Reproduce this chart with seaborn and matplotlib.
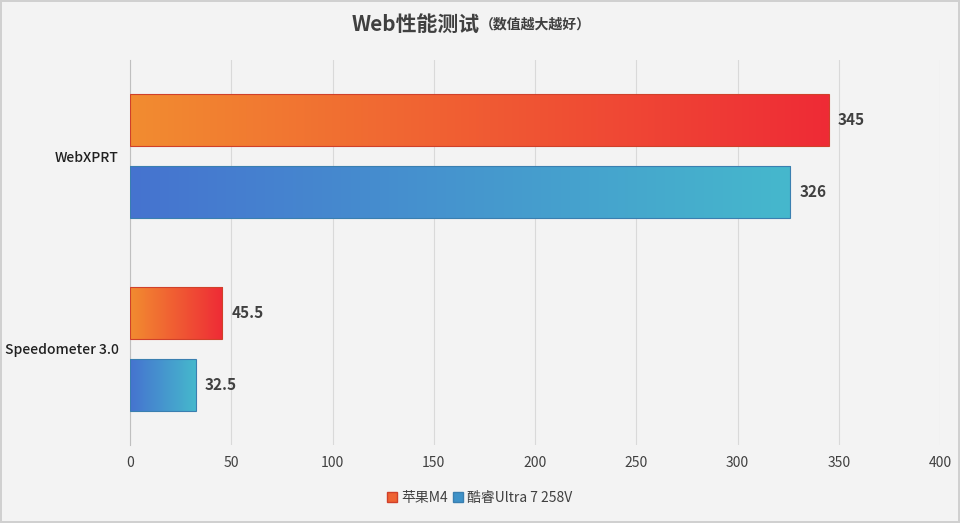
import numpy as np
import pandas as pd
import matplotlib.pyplot as plt
import matplotlib as mpl
from matplotlib import font_manager as fm
from matplotlib.colors import LinearSegmentedColormap
import seaborn as sns

CATEGORIES = ["WebXPRT", "Speedometer 3.0"]
SERIES = ["苹果M4", "酷睿Ultra 7 258V"]
M4_VALUES = [345, 45.5]
ULTRA_VALUES = [326, 32.5]
VALUE_LABELS = [["345", "45.5"], ["326", "32.5"]]
X_TICKS = [0, 50, 100, 150, 200, 250, 300, 350, 400]

GRADIENTS = [("#F28C30", "#EE2B36"), ("#4673D0", "#45B8CC")]
EDGES = ["#D0402A", "#3A7FB0"]
LEGEND_COLORS = ["#EF6232", "#3E92C8"]

# register any CJK font files so the family name resolves
for path in fm.findSystemFonts():
    if "cjk" in path.lower():
        try:
            fm.fontManager.addfont(path)
        except Exception:
            pass
cjk_names = sorted({f.name for f in fm.fontManager.ttflist if "CJK" in f.name})
cjk = "Noto Sans CJK SC" if "Noto Sans CJK SC" in cjk_names else (cjk_names[0] if cjk_names else "DejaVu Sans")
mpl.rcParams["font.family"] = [cjk, "DejaVu Sans"]

df = pd.DataFrame({
    "category": CATEGORIES * 2,
    "series": [SERIES[0]] * 2 + [SERIES[1]] * 2,
    "value": M4_VALUES + ULTRA_VALUES,
})

fig = plt.figure(figsize=(9.6, 5.23), dpi=100)
fig.patch.set_facecolor("#F3F3F3")
fig.patch.set_edgecolor("#D0D0D0")
fig.patch.set_linewidth(1.5)
ax = fig.add_axes([130 / 960, 1 - 445 / 523, 810 / 960, 385 / 523])
ax.set_facecolor("#F3F3F3")

sns.barplot(data=df, y="category", x="value", hue="series", order=CATEGORIES,
            hue_order=SERIES, orient="h", width=0.75, gap=0.28, ax=ax,
            palette=[g[0] for g in GRADIENTS], legend=False, zorder=2)

grad = np.linspace(0, 1, 256).reshape(1, -1)
for si, container in enumerate(ax.containers):
    cmap = LinearSegmentedColormap.from_list(f"g{si}", GRADIENTS[si])
    for ci, bar in enumerate(container):
        x0, y0 = bar.get_x(), bar.get_y()
        w, h = bar.get_width(), bar.get_height()
        bar.set_facecolor("none")
        bar.set_edgecolor(EDGES[si])
        bar.set_linewidth(0.8)
        bar.set_zorder(4)
        im = ax.imshow(grad, cmap=cmap, aspect="auto", extent=[x0, x0 + w, y0 + h, y0],
                       zorder=3)
        im.set_clip_path(bar)
        ax.text(x0 + w + 4.5, y0 + h / 2, VALUE_LABELS[si][ci], va="center", ha="left",
                fontsize=11, fontweight="bold", color="#404040")

ax.set_xlim(0, 400)
ax.set_ylim(1.5, -0.5)
ax.set_xticks(X_TICKS)
ax.set_xticklabels([str(t) for t in X_TICKS], fontsize=10, color="#404040")
ax.tick_params(axis="y", length=0, labelsize=10, labelcolor="#202020", pad=8)
for lbl in ax.get_yticklabels():
    lbl.set_fontweight("medium")
ax.tick_params(axis="x", length=0, pad=8)
ax.grid(axis="x", color="#D9D9D9", linewidth=0.8, zorder=0)
ax.set_xlabel("")
ax.set_ylabel("")
for s in ["top", "right", "bottom"]:
    ax.spines[s].set_visible(False)
ax.spines["left"].set_color("#BFBFBF")

fig.text(0.5, 1 - 24 / 523, "Web性能测试", ha="right", va="center", fontsize=15,
         fontweight="bold", color="#404040")
fig.text(0.5, 1 - 25 / 523, "（数值越大越好）", ha="left", va="center", fontsize=10,
         fontweight="bold", color="#404040")

handles = [mpl.patches.Patch(facecolor=LEGEND_COLORS[i], edgecolor=EDGES[i]) for i in range(2)]
fig.legend(handles, SERIES, loc="center", bbox_to_anchor=(0.5, 1 - 498 / 523), ncol=2,
           frameon=False, fontsize=10, handlelength=0.7, handleheight=0.7,
           handletextpad=0.3, columnspacing=0.4, labelcolor="#404040")

fig.savefig("out.png", dpi=100, facecolor=fig.get_facecolor(), edgecolor=fig.get_edgecolor())
